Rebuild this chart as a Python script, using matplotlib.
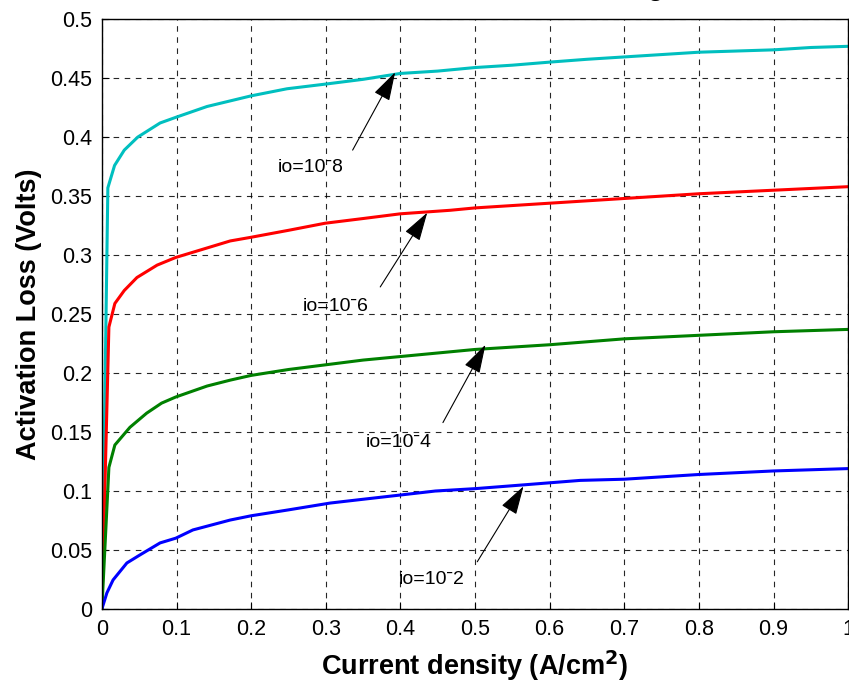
import matplotlib.pyplot as plt

plt.rcParams['font.family'] = ['Liberation Sans', 'DejaVu Sans']

# current density (A/cm^2) and activation loss (V)
x_c = [0, 0.008, 0.017, 0.03, 0.048, 0.078, 0.1, 0.141, 0.2, 0.248, 0.3, 0.35, 0.4,
       0.45, 0.5, 0.55, 0.6, 0.65, 0.7, 0.75, 0.8, 0.85, 0.9, 0.95, 1.0]
y_c = [0, 0.357, 0.376, 0.389, 0.400, 0.412, 0.417, 0.426, 0.435, 0.441, 0.445, 0.449, 0.454,
       0.456, 0.459, 0.461, 0.4636, 0.466, 0.468, 0.470, 0.472, 0.473, 0.474, 0.476, 0.477]

x_r = [0, 0.0094, 0.0174, 0.03, 0.047, 0.074, 0.099, 0.172, 0.199, 0.25, 0.299, 0.35, 0.4,
       0.467, 0.5, 0.6, 0.7, 0.8, 0.9, 1.0]
y_r = [0, 0.239, 0.259, 0.270, 0.281, 0.2915, 0.298, 0.312, 0.315, 0.321, 0.327, 0.331, 0.335,
       0.338, 0.340, 0.344, 0.348, 0.352, 0.355, 0.358]

x_g = [0, 0.0094, 0.0174, 0.0376, 0.06, 0.08, 0.099, 0.141, 0.172, 0.2, 0.25, 0.3, 0.35, 0.4,
       0.45, 0.5, 0.6, 0.7, 0.8, 0.9, 1.0]
y_g = [0, 0.120, 0.139, 0.154, 0.166, 0.1745, 0.1797, 0.189, 0.194, 0.198, 0.203, 0.207, 0.211,
       0.214, 0.217, 0.220, 0.224, 0.229, 0.232, 0.235, 0.237]

x_b = [0, 0.0067, 0.015, 0.0335, 0.051, 0.078, 0.099, 0.122, 0.172, 0.2, 0.25, 0.306, 0.35,
       0.4, 0.447, 0.5, 0.561, 0.641, 0.7, 0.8, 0.9, 1.0]
y_b = [0, 0.0136, 0.0246, 0.039, 0.0458, 0.056, 0.060, 0.067, 0.0754, 0.079, 0.084, 0.0898, 0.093,
       0.0966, 0.1, 0.102, 0.105, 0.109, 0.110, 0.114, 0.117, 0.119]

labels = ['io=10\u02c98', 'io=10\u02c96', 'io=10\u02c94', 'io=10\u02c92']
arrow_tips = [(0.393, 0.455), (0.436, 0.336), (0.514, 0.224), (0.565, 0.104)]
text_pos = [(0.235, 0.374), (0.269, 0.256), (0.353, 0.141), (0.398, 0.025)]
tail_pos = [(0.336, 0.389), (0.373, 0.273), (0.457, 0.158), (0.503, 0.040)]

xticks = [0, 0.1, 0.2, 0.3, 0.4, 0.5, 0.6, 0.7, 0.8, 0.9, 1]
xtick_labels = ['0', '0.1', '0.2', '0.3', '0.4', '0.5', '0.6', '0.7', '0.8', '0.9', '1']
yticks = [0, 0.05, 0.1, 0.15, 0.2, 0.25, 0.3, 0.35, 0.4, 0.45, 0.5]
ytick_labels = ['0', '0.05', '0.1', '0.15', '0.2', '0.25', '0.3', '0.35', '0.4', '0.45', '0.5']

fig = plt.figure(figsize=(8.49, 6.85), dpi=100)
ax = fig.add_axes([0.120, 0.111, 0.879, 0.861])

ax.plot(x_c, y_c, color='#00BFBF', lw=2.2)
ax.plot(x_r, y_r, color='#FF0000', lw=2.2)
ax.plot(x_g, y_g, color='#008000', lw=2.2)
ax.plot(x_b, y_b, color='#0000FF', lw=2.2)

for lab, tip, tp, tail in zip(labels, arrow_tips, text_pos, tail_pos):
    ax.text(tp[0], tp[1], lab, fontsize=14, va='center', ha='left')
    ax.annotate('', xy=tip, xytext=tail,
                arrowprops=dict(arrowstyle='-|>,head_length=1.0,head_width=0.3',
                                mutation_scale=18, lw=0.8, color='k',
                                shrinkA=0, shrinkB=0))

ax.set_xlim(0, 1)
ax.set_ylim(0, 0.5)
ax.set_xticks(xticks)
ax.set_xticklabels(xtick_labels, fontsize=15.5)
ax.set_yticks(yticks)
ax.set_yticklabels(ytick_labels, fontsize=15.5)
ax.tick_params(direction='in', length=5, pad=7)
ax.grid(True, color='k', linestyle=(0, (5, 5)), lw=0.8, alpha=0.85)
for s in ax.spines.values():
    s.set_linewidth(1.0)

ax.set_xlabel('Current density (A/cm$^\\mathbf{2}$)', fontsize=19.5, fontweight='bold', labelpad=6)
ax.set_ylabel('Activation Loss (Volts)', fontsize=19.5, fontweight='bold', labelpad=6)

# title is cut off at the top of the picture; only the descender shows
fig.text(0.80, 1.008, 'Activation Loss Voltage', fontsize=19.5, fontweight='bold',
         ha='right', va='baseline')

fig.savefig('out.png', dpi=100)
